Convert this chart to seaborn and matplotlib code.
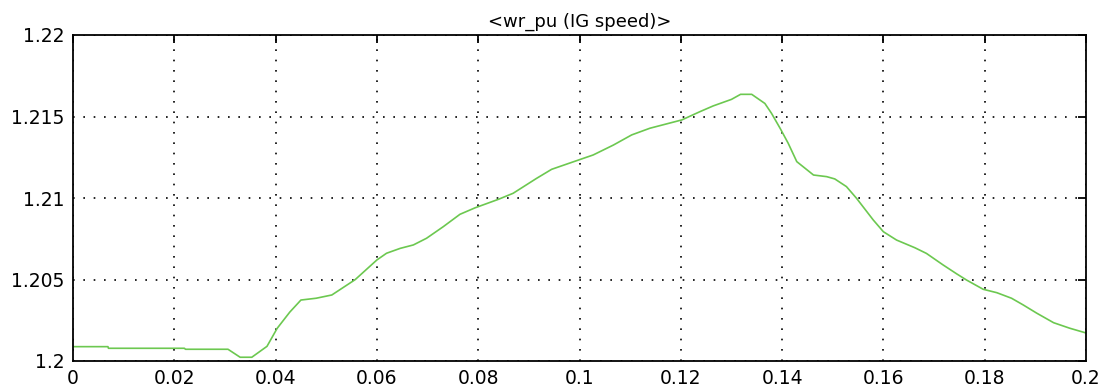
import numpy as np
import pandas as pd
import matplotlib
matplotlib.use("Agg")
import matplotlib.pyplot as plt
import seaborn as sns

# Induction generator rotor speed (pu) over time (s)
time_s = [0.0, 0.0069, 0.0070, 0.022, 0.0222, 0.0306, 0.033, 0.0353, 0.0383,
          0.0403, 0.0428, 0.0450, 0.0480, 0.0511, 0.0557, 0.0600, 0.0619,
          0.0646, 0.0672, 0.0698, 0.0731, 0.0764, 0.0794, 0.0840, 0.0869,
          0.0915, 0.0945, 0.0998, 0.1027, 0.1067, 0.1103, 0.1139, 0.1202,
          0.1238, 0.1264, 0.1300, 0.1318, 0.1340, 0.1366, 0.1379, 0.1396,
          0.1412, 0.1429, 0.1462, 0.1488, 0.1504, 0.1527, 0.1547, 0.1580,
          0.1600, 0.1626, 0.1662, 0.1685, 0.1718, 0.1745, 0.1764, 0.1797,
          0.1824, 0.1853, 0.1876, 0.1903, 0.1936, 0.1968, 0.2000]
speed_pu = [1.20088, 1.20088, 1.20078, 1.20078, 1.20072, 1.20072, 1.20023,
            1.20023, 1.20090, 1.20200, 1.20300, 1.20374, 1.20385, 1.20405,
            1.20499, 1.20620, 1.20661, 1.20691, 1.20712, 1.20753, 1.20824,
            1.20900, 1.20940, 1.20992, 1.21029, 1.21120, 1.21176, 1.21233,
            1.21264, 1.21325, 1.21387, 1.21428, 1.21479, 1.21530, 1.21565,
            1.21605, 1.21636, 1.21636, 1.21580, 1.21520, 1.21428, 1.21336,
            1.21223, 1.21141, 1.21131, 1.21117, 1.21070, 1.20998, 1.20865,
            1.20793, 1.20742, 1.20695, 1.20660, 1.20589, 1.20534, 1.20497,
            1.20440, 1.20419, 1.20385, 1.20344, 1.20293, 1.20235, 1.20201,
            1.20172]

x_ticks = [0, 0.02, 0.04, 0.06, 0.08, 0.1, 0.12, 0.14, 0.16, 0.18, 0.2]
x_tick_labels = ["0", "0.02", "0.04", "0.06", "0.08", "0.1", "0.12",
                 "0.14", "0.16", "0.18", "0.2"]
y_ticks = [1.2, 1.205, 1.21, 1.215, 1.22]
y_tick_labels = ["1.2", "1.205", "1.21", "1.215", "1.22"]
title_text = "<wr_pu (IG speed)>"

df = pd.DataFrame({"t": time_s, "w": speed_pu})

sns.set_style("white")
plt.rcParams["font.family"] = ["DejaVu Sans"]

fig = plt.figure(figsize=(11.09, 3.92), dpi=100)
ax = fig.add_axes([73 / 1109, 1 - 361 / 392, (1086 - 73) / 1109, (361 - 35) / 392])

sns.lineplot(data=df, x="t", y="w", ax=ax, color="#6cc850", linewidth=1.2,
             estimator=None, sort=False)

ax.set_xlim(0, 0.2)
ax.set_ylim(1.2, 1.22)
ax.set_xticks(x_ticks)
ax.set_xticklabels(x_tick_labels)
ax.set_yticks(y_ticks)
ax.set_yticklabels(y_tick_labels)
ax.set_xlabel("")
ax.set_ylabel("")

ax.grid(True, color="black", linestyle=(0, (1, 5.2)), linewidth=1.2)
ax.tick_params(axis="both", which="both", direction="in", length=6, width=1.3,
               top=True, right=True, labelsize=13.5, colors="black", pad=6)
for side in ["left", "right", "top", "bottom"]:
    ax.spines[side].set_visible(True)
    ax.spines[side].set_color("black")
    ax.spines[side].set_linewidth(1.3)

ax.set_title(title_text, fontsize=13, color="black", pad=6)

fig.savefig("out.png", dpi=100, facecolor="white")
